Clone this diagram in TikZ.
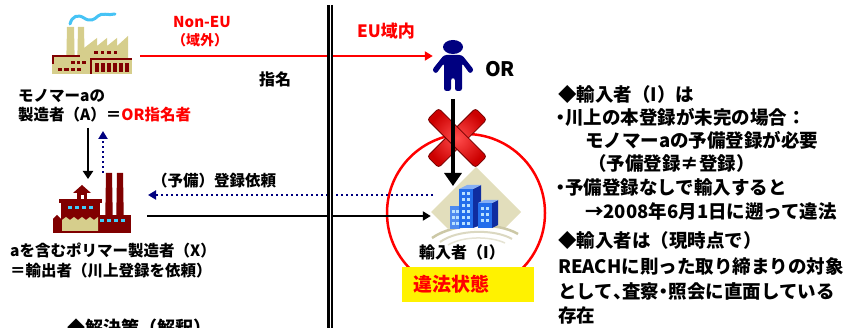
\documentclass[tikz,border=0pt]{standalone}
\usepackage{fontspec}
\setmainfont{Noto Sans CJK JP}
\newfontfamily\jpprop{Noto Sans CJK JP}[RawFeature=+palt]
\usetikzlibrary{arrows.meta}
\definecolor{khaki}{RGB}{214,206,140}
\definecolor{brick}{RGB}{128,0,0}
\definecolor{smoke}{RGB}{70,195,245}
\definecolor{navyfig}{RGB}{0,0,128}
\definecolor{winblue}{RGB}{64,204,250}
\definecolor{tilebg}{RGB}{226,222,188}
\definecolor{tileedge}{RGB}{204,200,166}
\definecolor{bluefront}{RGB}{35,110,235}
\definecolor{blueside}{RGB}{15,45,160}
\definecolor{bluewin}{RGB}{185,225,255}
\newcommand{\jpsize}[1]{\fontsize{#1}{#1}\selectfont\bfseries}
% narrow punctuation (proportional widths)
\newcommand{\np}[1]{{\jpprop\bfseries #1}}
\begin{document}
\begin{tikzpicture}[x=1pt,y=-1pt,
  txt/.style={inner sep=0pt, anchor=base west, font=\jpsize{15.5}},
  note/.style={inner sep=0pt, anchor=base west, font=\jpsize{18.5}},
  iconbox/.style={inner sep=0pt, minimum width=#1},
  solidarrow/.style={line width=2.3pt, -{Triangle[length=8pt,width=9pt]}},
  dotarrow/.style={navyfig, line width=2pt, dash pattern=on 2pt off 3pt, -{Triangle[length=8pt,width=9pt]}},
]
\useasboundingbox (0,0) rectangle (848,328);

% ---------- icon placeholders (for connector anchors) ----------
\node[iconbox=80pt, minimum height=62pt] (facA) at (92,43) {};
\node[iconbox=80pt, minimum height=60pt] (facX) at (92,203) {};
\node[iconbox=40pt, minimum height=52pt] (person) at (453,66) {};
\node[iconbox=90pt, minimum height=80pt] (importer) at (476,207) {};

% ---------- importer zone ----------
\node[draw=red, line width=2.5pt, circle, minimum size=158pt, inner sep=0pt] (zone) at (466,213) {};
\node[fill=yellow, inner sep=0pt, minimum width=132pt, minimum height=35pt] (illegalbox) at (468,284.5) {};

% importer icon: tile, ground arcs, office towers
\fill[tilebg] (476,167) -- (521,212) -- (476,257) -- (431,212) -- cycle;
\fill[white] (424,239) .. controls (452,221) and (500,221) .. (526,236) -- (526,262) -- (424,262) -- cycle;
\draw[tileedge, line width=2.5pt] (432,238) .. controls (455,222) and (498,222) .. (518,234);
\draw[tileedge!70!white, line width=2pt] (440,242) .. controls (458,229) and (495,229) .. (512,239);
\draw[tileedge!50!white, line width=1.5pt] (448,245) .. controls (463,236) and (490,236) .. (505,243);
\fill[bluefront!80!white] (450,206) rectangle (460,229);
\fill[bluefront] (459,189) rectangle (473,228);
\fill[blueside] (473,189) -- (481,185) -- (481,225) -- (473,228) -- cycle;
\fill[bluefront!55!white] (459,189) -- (467,185) -- (481,185) -- (473,189) -- cycle;
\fill[bluefront] (478,203) rectangle (492,228);
\fill[blueside] (492,203) -- (498,200) -- (498,225) -- (492,228) -- cycle;
\fill[bluefront!55!white] (478,203) -- (484,200) -- (498,200) -- (492,203) -- cycle;
\foreach \x in {461.5,467} \foreach \y in {192,198,...,222} \fill[bluewin] (\x,\y) rectangle ++(3,3);
\foreach \x in {452,456} \foreach \y in {210,216,222} \fill[bluewin] (\x,\y) rectangle ++(2.5,3);
\foreach \x in {480.5,486} \foreach \y in {207,213,219} \fill[bluewin] (\x,\y) rectangle ++(3,3);

% ---------- red cross ----------
\begin{scope}[shift={(457,138)}]
  \foreach \a in {45,-45}
    \draw[rotate=\a, draw=red!45!black, line width=0.8pt, rounded corners=3pt,
          inner color=red!70!white, outer color=red!80!black]
      (-34,-8) rectangle (34,8);
\end{scope}

% ---------- person (OR) ----------
\fill[navyfig] (453,47) ellipse[x radius=10pt, y radius=7pt];
\fill[navyfig, rounded corners=2.5pt] (444,55) -- (462,55) -- (474,70) -- (470,74) -- (462,63)
  -- (462,91) -- (455,91) -- (455,78) -- (451,78) -- (451,91) -- (444,91) -- (444,63)
  -- (436,74) -- (432,70) -- cycle;

% ---------- manufacturer A (beige factory) ----------
\draw[smoke, line width=3pt, line cap=round] (70,24) .. controls (72,16) and (78,14) .. (84,18)
  .. controls (90,22) and (94,20) .. (98,16) .. controls (102,12) and (108,16) .. (115,14);
\fill[khaki] (66,74) -- (67,27) -- (74,27) -- (75,74) -- cycle;
\fill[khaki] (77,74) -- (78,27) -- (84,27) -- (85,74) -- cycle;
\fill[khaki] (84,74) -- (84,48) -- (97,38) -- (97,46) -- (107,38) -- (107,46) -- (117,38)
  -- (117,46) -- (128,36) -- (128,74) -- cycle;
\foreach \x in {94,100.5,107,113.5} \fill[brick] (\x,51) rectangle ++(3.5,3.5);
\fill[khaki] (52,55) rectangle (92,74);
\draw[brick, line width=2pt] (53,64) -- (53,56) -- (80,56);
\foreach \x in {71,76.5,82} \fill[brick] (\x,61) rectangle ++(3.5,3);
\foreach \x/\w in {58/4,64/5,71/4,77/4} \fill[brick] (\x,68) rectangle ++(\w,3);
\fill[khaki] (90,58) rectangle (132,74);
\draw[brick, line width=2pt] (91,74) -- (91,59) -- (132,59);
\foreach \x in {95,101,107,113,119,125} \fill[brick] (\x,63) rectangle ++(4,9);

% ---------- manufacturer X (brick factory) ----------
\fill[brick] (105,232) -- (106,173) -- (112,173) -- (113,232) -- cycle;
\fill[brick] (116,232) -- (117,173) -- (123,173) -- (124,232) -- cycle;
\fill[brick] (98,215) rectangle (131,233);
\foreach \x in {100,107,114,121} \fill[winblue] (\x,219) rectangle ++(3.5,3.5);
\fill[brick] (61,201) rectangle (100,233);
\fill[brick] (59,199) rectangle (102,203);
\foreach \x in {68,75,82,89} \fill[winblue] (\x,206) rectangle ++(3.5,3.5);
\fill[brick] (77,191) rectangle (87,201);
\fill[brick] (73,193) -- (82,185) -- (91,193) -- cycle;
\fill[white] (80.5,195) rectangle (83.5,199);
\fill[brick] (53,233) -- (53,219) -- (57,215) -- (61,219) -- (61,233) -- cycle;
\fill[khaki] (62,231) -- (62,220) -- (66,217) -- (70,220) -- (74,217) -- (78,220) -- (82,217)
  -- (86,220) -- (90,217) -- (94,220) -- (98,217) -- (98,231) -- cycle;

% ---------- connectors ----------
\coordinate (nonEUstart) at (140,56);
\draw[red, solidarrow] (nonEUstart) -- (nonEUstart -| person.west);

\coordinate (orOut) at (453,99);
\coordinate (impIn) at (453,186);
\draw[line width=4.5pt, -{Triangle[length=13pt,width=17pt]}] (orOut) -- (impIn);

\coordinate (aOut) at (88,128);
\coordinate (xIn) at (88,179);
\draw[line width=2.6pt, -{Triangle[length=8pt,width=10pt]}] (aOut) -- (xIn);

\coordinate (xUp) at (103,173);
\coordinate (aBelow) at (103,131);
\draw[dotarrow] (xUp) -- (aBelow);

\coordinate (reqStart) at (433,195);
\coordinate (reqEnd) at (148,195);
\draw[dotarrow] (reqStart) -- (reqEnd);

\coordinate (expStart) at (147,216);
\draw[solidarrow] (expStart) -- (expStart -| importer.west);

% EU border
\draw[line width=5.5pt] (330,5) -- (330,328);
\draw[white, line width=1pt] (330,5) -- (330,328);

% ---------- labels ----------
\node[inner sep=0pt, anchor=base, text=red, font=\jpsize{15}] (tNonEU) at (202,27.5) {Non-EU};
\node[inner sep=0pt, anchor=base, text=red, font=\jpsize{14}] (tOutside) at (200,46) {（域外）};
\node[txt, font=\jpsize{16}] (tNominate) at (259,85.8) {指名};
\node[txt] (tMfrA1) at (18,101.6) {モノマーaの};
\node[txt] (tMfrA2) at (18,120.6) {製造者（A）＝\textcolor{red}{OR指名者}};
\node[txt, text=red, font=\jpsize{17}] (tEU) at (357,38) {EU域内};
\node[txt, font=\jpsize{20}] (tOR) at (485,77) {OR};
\node[txt] (tRequest) at (152,186.6) {（予備）登録依頼};
\node[txt] (tMfrX1) at (10,256.6) {aを含むポリマー製造者（X）};
\node[txt] (tMfrX2) at (10,276.6) {＝輸出者（川上登録を依頼）};
\node[inner sep=0pt, anchor=base, font=\jpsize{16}] (tImporter) at (462,258.8) {輸入者（I）};
\node[txt, text=red, font=\jpsize{19}] (tIllegal) at (413,291.8) {違法状態};
\node[txt, font=\jpsize{18}] (tSolution) at (67,334.4) {◆解決策（解釈）};

\node[note] (r1) at (558,101.7) {◆輸入者（I）は};
\node[note] (r2) at (556,124.7) {\np{・}川上の本登録が未完の場合：};
\node[note] (r3) at (585,147.7) {モノマーaの予備登録が必要};
\node[note] (r4) at (588,170.7) {（予備登録≠登録）};
\node[note] (r5) at (556,194.7) {\np{・}予備登録なしで輸入すると};
\node[note] (r6) at (585,218.7) {→2008年6月1日に遡って違法};
\node[note] (r7) at (558,247.7) {◆輸入者は（現時点で）};
\node[note] (r8) at (558,273.7) {REACHに則った取り締まりの対象};
\node[note] (r9) at (558,298.7) {として\np{、}査察\np{・}照会に直面している};
\node[note] (r10) at (558,322.7) {存在};
\end{tikzpicture}
\end{document}
